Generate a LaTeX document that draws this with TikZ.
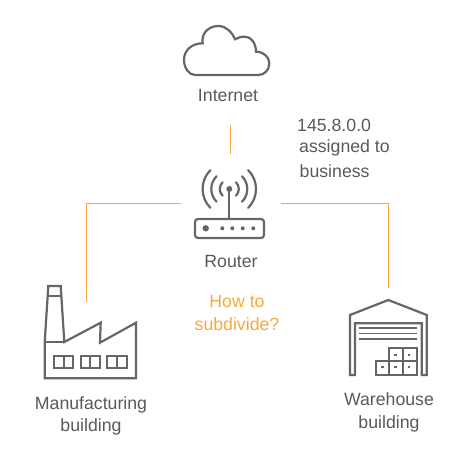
\documentclass[tikz,border=0pt]{standalone}
\usepackage{fontspec}
\setmainfont{Liberation Sans}
\definecolor{icongray}{HTML}{666666}
\definecolor{textgray}{HTML}{595959}
\definecolor{linkorange}{HTML}{F5A93B}
\tikzset{
  icon/.style={draw=icongray,line width=2.2pt,line join=miter},
  iconthin/.style={draw=icongray,line width=1.7pt},
  lbl/.style={text=textgray,font=\fontsize{17.7}{22.5}\selectfont,align=center,inner sep=0pt},
  lbll/.style={lbl,anchor=west},
  ask/.style={lbl,text=linkorange},
  link/.style={draw=linkorange,line width=1pt},
  hub/.style={inner sep=0pt,outer sep=0pt,minimum width=100pt,minimum height=98pt}
}
\begin{document}
\begin{tikzpicture}[x=1pt,y=-1pt]
\useasboundingbox (0,0) rectangle (460,465);
% cloud
\draw[icon] (195,75) -- (258.3,75)
  .. controls (264.5,75) and (269.3,70) .. (269.3,63.3)
  .. controls (269.3,57) and (263.5,51.7) .. (256,51.7)
  .. controls (256,43) and (251,36.7) .. (245,36.7)
  .. controls (241,36.7) and (238,37.5) .. (235,39.3)
  .. controls (232,32) and (226,26) .. (218.3,26)
  .. controls (208,26) and (201,34) .. (202.7,43.3)
  .. controls (192,43.3) and (184,50) .. (184,60)
  .. controls (184,68) and (189,75) .. (195,75) -- cycle;
\node[lbl] (internet) at (228,95) {Internet};
\coordinate (internetport) at (230,125);
% router
\node[hub] (routerhub) at (230.5,203.5) {};
\draw[icon,rounded corners=3pt] (195,219) rectangle (264,238);
\draw[icon] (229.3,189) -- (229.3,219);
\fill[icongray] (229.3,189) circle[radius=3];
\foreach \r in {9.5,18,26.7}{
  \draw[icon,line cap=round] (229.3,189) ++(-45:\r) arc[start angle=-45,end angle=45,radius=\r];
  \draw[icon,line cap=round] (229.3,189) ++(-135:\r) arc[start angle=-135,end angle=-225,radius=\r];
}
\fill[icongray] (205.7,228.3) circle[radius=3.2];
\foreach \x in {222.3,232.3,242.7,253.3}{\fill[icongray] (\x,228.3) circle[radius=2];}
\node[lbl] (router) at (231,261) {Router};
% factory
\draw[icon] (44.7,378.3) -- (44.7,342) -- (48.3,286) -- (60.7,286) -- (64.3,342) -- (100.7,322.7) -- (100,342.7) -- (136,322.7) -- (136,378.3) -- cycle;
\draw[icon] (44.7,342) -- (64.3,342);
\draw[icon] (47.7,296) -- (61.3,296);
\foreach \a/\m/\b in {54/63.7/73.3,80.7/90.3/100,107.3/117.3/127.3}{
  \draw[icon] (\a,356) rectangle (\b,367.7);
  \draw[icon] (\m,356) -- (\m,367.7);
}
\coordinate (factoryport) at (86.5,302);
\node[lbl] (factory) at (91,416) {Manufacturing\\building};
% warehouse
\draw[icon] (350,375) -- (350,315) -- (388.3,300) -- (426.7,315) -- (426.7,375) -- (421.7,375) -- (421.7,323.3) -- (355,323.3) -- (355,375) -- cycle;
\foreach \y in {328.3,333.5,339}{\draw[iconthin] (359.3,\y) -- (417.3,\y);}
\draw[iconthin] (389.3,361) -- (389.3,348.3) -- (416.7,348.3) -- (416.7,375) -- (375.7,375) -- (375.7,361) -- (416.7,361);
\draw[iconthin] (403,348.3) -- (403,375);
\draw[iconthin] (389.3,361) -- (389.3,375);
\foreach \x/\y in {394/353.5,407.5/353.5,381/365.5,394/365.5,407.5/365.5}{\fill[icongray] (\x,\y) rectangle ++(2.6,2);}
\coordinate (warehouseport) at (388.5,288);
\node[lbl] (warehouse) at (389,412.5) {Warehouse\\building};
% labels
\node[lbll] (addr) at (297,125) {145.8.0.0};
\node[lbll] (assigned) at (299,148) {assigned to};
\node[lbll] (business) at (299.5,171) {business};
\node[ask] (howto) at (237,313) {How to\\subdivide?};
% connectors
\draw[link] (internetport) -- (internetport |- routerhub.north);
\draw[link] (routerhub.west) -| (factoryport);
\draw[link] (routerhub.east) -| (warehouseport);
\end{tikzpicture}
\end{document}
